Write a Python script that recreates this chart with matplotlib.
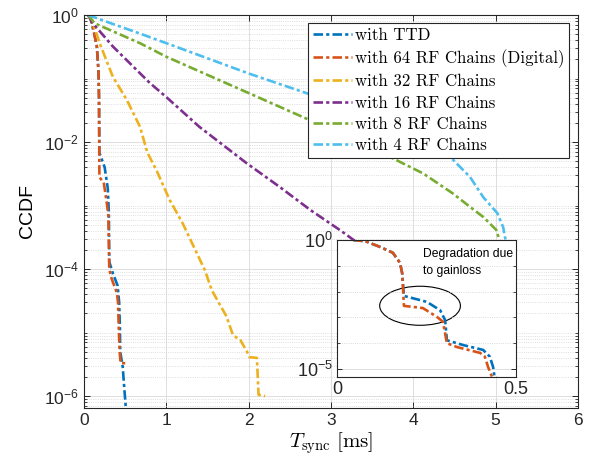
import numpy as np
import matplotlib.pyplot as plt
from matplotlib.patches import Ellipse
from matplotlib.ticker import FixedLocator, NullFormatter, LogLocator

plt.rcParams.update({
    "font.family": "Liberation Sans",
    "font.size": 12,
    "mathtext.fontset": "custom",
    "mathtext.rm": "Liberation Sans",
    "mathtext.it": "Liberation Sans:italic",
    "mathtext.bf": "Liberation Sans:bold",
    "xtick.direction": "in",
    "ytick.direction": "in",
    "xtick.top": True,
    "ytick.right": True,
    "axes.linewidth": 0.8,
    "axes.edgecolor": "#262626",
    "xtick.color": "#262626",
    "ytick.color": "#262626",
})

# CCDF curves (x in ms)
ttd_x = [0.045, 0.08, 0.12, 0.156, 0.176, 0.182, 0.187, 0.251, 0.288, 0.302,
         0.307, 0.352, 0.408, 0.427, 0.436, 0.44, 0.47, 0.49, 0.515]
ttd_y = [1, 0.89, 0.54, 0.32, 0.13, 0.052, 6.8e-3, 4.0e-3, 1.9e-3, 7.9e-4,
         1.3e-4, 8.5e-5, 5.5e-5, 3.0e-5, 1.2e-5, 5.0e-6, 2.9e-6, 1.3e-6, 5.0e-7]

dig_x = [0.045, 0.08, 0.12, 0.156, 0.176, 0.182, 0.187, 0.24, 0.279, 0.296,
         0.307, 0.335, 0.40, 0.413, 0.422, 0.433, 0.445, 0.51]
dig_y = [1, 0.89, 0.54, 0.32, 0.13, 0.052, 2.8e-3, 2.3e-3, 1.05e-3, 6.8e-4,
         1.0e-4, 7.1e-5, 4.2e-5, 3.0e-5, 1.2e-5, 5.0e-6, 3.3e-6, 3.3e-6]

rf32_x = [0.05, 0.11, 0.19, 0.35, 0.52, 0.68, 0.77, 0.88, 1.04, 1.2, 1.47,
          1.55, 1.73, 1.81, 1.9, 1.98, 2.01, 2.1, 2.12, 2.2]
rf32_y = [1, 0.74, 0.36, 0.107, 0.046, 0.0174, 6.8e-3, 3.6e-3, 1.23e-3, 5.2e-4,
          9.5e-5, 4.7e-5, 1.8e-5, 9.1e-6, 7.6e-6, 5.0e-6, 4.1e-6, 4.0e-6, 1.05e-6, 1.0e-6]

rf16_x = [0.05, 0.1, 0.35, 0.8, 1.0, 1.4, 1.97, 2.38, 2.75, 3.11, 3.27, 3.6, 4.0, 4.5]
rf16_y = [1, 0.76, 0.32, 0.085, 0.051, 0.0174, 4.7e-3, 1.95e-3, 8.5e-4, 4.1e-4,
          2.9e-4, 1.4e-4, 5.0e-5, 1.0e-5]

rf8_x = [0.05, 0.13, 0.68, 1.0, 2.0, 2.7, 3.2, 3.72, 4.12, 4.48, 4.69, 4.85,
         5.01, 5.1, 5.2]
rf8_y = [1, 0.74, 0.36, 0.22, 0.059, 0.0234, 0.0117, 5.8e-3, 3.2e-3, 1.55e-3,
         9.5e-4, 6.6e-4, 4.1e-4, 1.6e-4, 2.5e-5]

rf4_x = [0.05, 0.22, 0.68, 1.0, 2.0, 2.7, 3.5, 4.0, 4.45, 4.69, 4.85, 5.02,
         5.09, 5.12, 5.18]
rf4_y = [1, 0.83, 0.51, 0.36, 0.12, 0.059, 0.024, 0.0126, 5.8e-3, 2.8e-3,
         1.35e-3, 7.6e-4, 4.6e-4, 2.9e-4, 6.3e-5]

labels = ["with TTD", "with 64 RF Chains (Digital)", "with 32 RF Chains",
          "with 16 RF Chains", "with 8 RF Chains", "with 4 RF Chains"]
colors = ["#0072BD", "#D95319", "#EDB120", "#7E2F8E", "#77AC30", "#4DBEEE"]
series = [(ttd_x, ttd_y), (dig_x, dig_y), (rf32_x, rf32_y),
          (rf16_x, rf16_y), (rf8_x, rf8_y), (rf4_x, rf4_y)]

dashdot = (0, (3.6, 1.2, 1.2, 1.2))
lw = 1.9

fig = plt.figure(figsize=(5.95, 4.68), dpi=100)
ax = fig.add_axes([84 / 595, 60 / 468, 494 / 595, 393 / 468])

for (x, y), lab, c in zip(series, labels, colors):
    ax.plot(x, y, color=c, lw=lw, ls=dashdot, label=lab)

ax.set_yscale("log")
ax.set_xlim(0, 6)
ax.set_ylim(6.5e-7, 1)
ax.set_xticks(range(7))
ax.yaxis.set_major_locator(FixedLocator([1e-6, 1e-4, 1e-2, 1]))
ax.yaxis.set_minor_locator(LogLocator(base=10, subs=np.arange(1, 10), numticks=30))
ax.yaxis.set_minor_formatter(NullFormatter())
ax.grid(True, which="major", color="#dedede", lw=0.7, ls="-")
ax.grid(True, which="minor", axis="y", color="#d4d4d4", lw=0.6, ls=":")
ax.tick_params(which="major", length=4.5, width=0.7, labelsize=12.5)
ax.tick_params(which="minor", length=2.5, width=0.6)

ax.set_ylabel("CCDF", fontsize=14, labelpad=6)
ax.set_xlabel(r"$T_{\mathrm{sync}}\ [\mathrm{ms}]$", fontsize=15,
              math_fontfamily="cm", labelpad=2)

leg = ax.legend(loc="upper right", bbox_to_anchor=(0.982, 0.98),
                prop={"family": "cmr10", "size": 12.1},
                handlelength=2.3, handletextpad=0.15, labelspacing=0.36,
                borderpad=0.3, borderaxespad=0, fancybox=False,
                framealpha=1, edgecolor="#262626")
leg.get_frame().set_linewidth(0.8)

# zoomed inset
ax_in = fig.add_axes([337 / 595, 91 / 468, 179 / 595, 137 / 468])
ax_in.plot(ttd_x, ttd_y, color=colors[0], lw=lw, ls=dashdot)
ax_in.plot(dig_x, dig_y, color=colors[1], lw=lw, ls=dashdot)
ax_in.set_yscale("log")
ax_in.set_xlim(0, 0.5)
ax_in.set_ylim(4.9e-6, 1)
ax_in.set_xticks([0, 0.5])
ax_in.set_xticklabels(["0", "0.5"])
ax_in.yaxis.set_major_locator(FixedLocator([1e-5, 1]))
ax_in.yaxis.set_minor_locator(FixedLocator([1e-4, 1e-3, 1e-2, 1e-1]))
ax_in.yaxis.set_minor_formatter(NullFormatter())
ax_in.grid(True, which="major", axis="y", color="#dedede", lw=0.7, ls="-")
ax_in.grid(True, which="minor", axis="y", color="#cfcfcf", lw=0.6, ls=":")
ax_in.tick_params(which="major", length=3.5, width=0.7, labelsize=13, pad=3)
ax_in.tick_params(which="minor", length=2, width=0.6)

ax_in.add_patch(Ellipse((0.464, 0.52), 0.451, 0.285, transform=ax_in.transAxes,
                        fill=False, edgecolor="black", lw=0.8))
ax_in.text(0.48, 0.94, "Degradation due\nto gainloss", transform=ax_in.transAxes,
           fontsize=8.7, va="top", ha="left", linespacing=1.55)

fig.savefig("out.png", dpi=100)
